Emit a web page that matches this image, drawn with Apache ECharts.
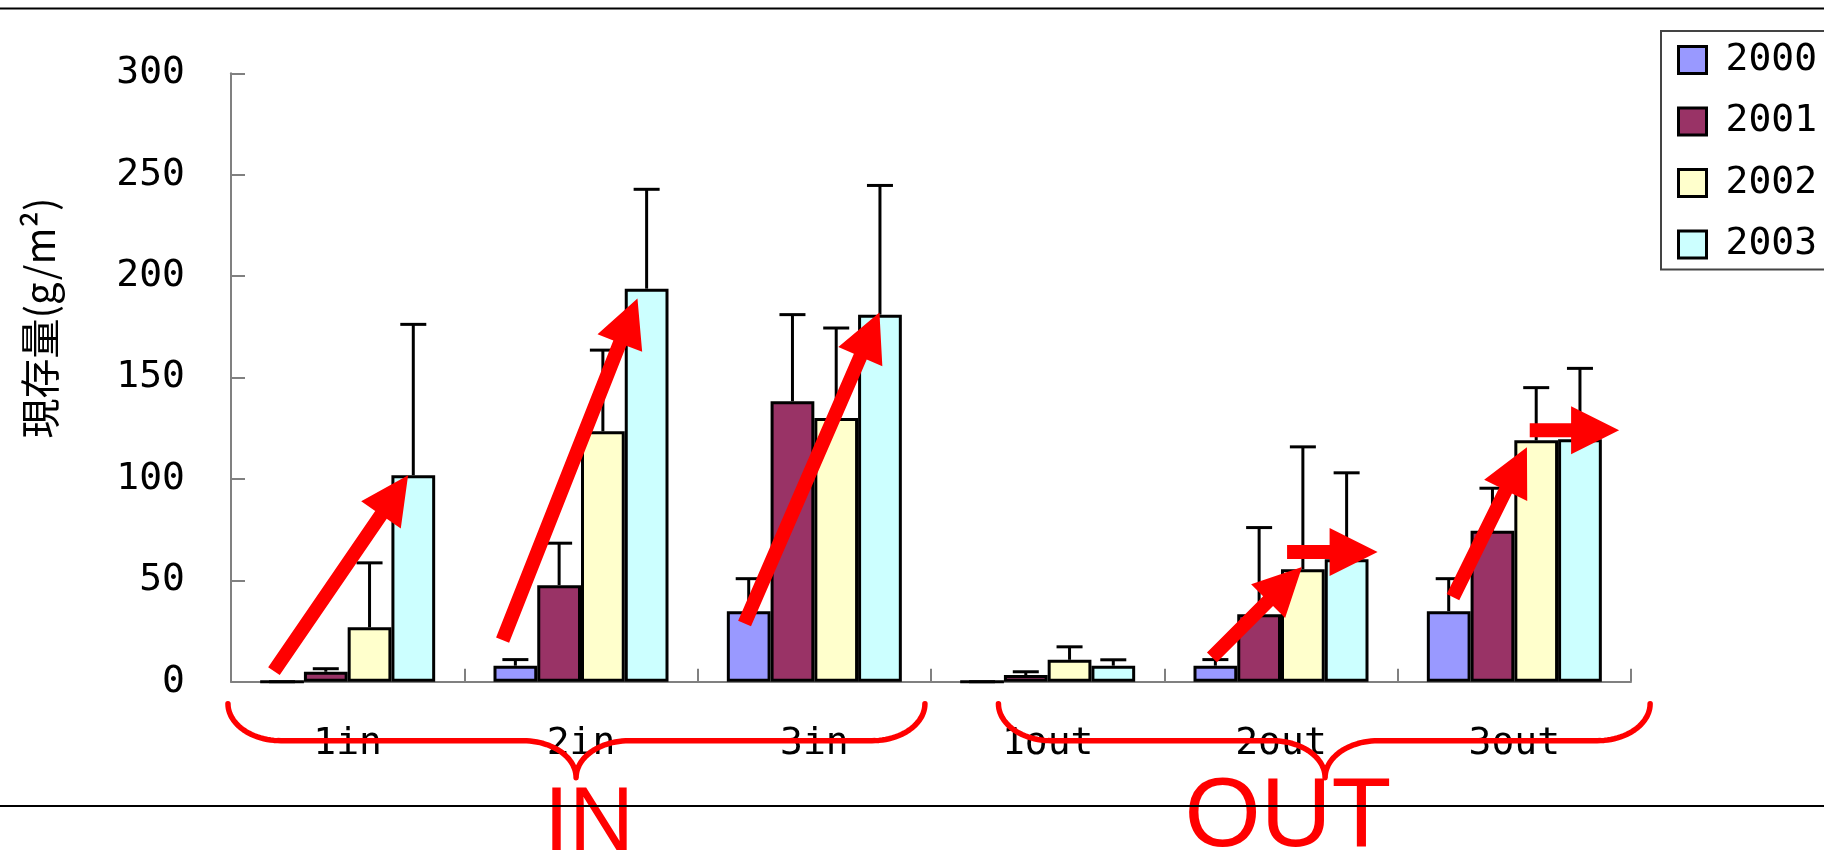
<!DOCTYPE html>
<html><head><meta charset="utf-8">
<script src="https://cdn.jsdelivr.net/npm/echarts@6/dist/echarts.min.js"></script>
<style>html,body{margin:0;padding:0;background:#fff}#c{width:1824px;height:859px}</style>
</head><body><div id="c"></div>
<script>
// ---- data ----
const categories = ['1in', '2in', '3in', '1out', '2out', '3out'];
const years = ['2000', '2001', '2002', '2003'];
const v2000 = [0, 7.9, 34.8, 0, 7.9, 34.8];
const v2001 = [4.9, 47.6, 138.3, 3.3, 33.3, 74.4];
const v2002 = [26.8, 123.5, 130, 10.8, 55.5, 119];
const v2003 = [101.8, 193.8, 181, 7.9, 60.4, 119.5];
const sd2000 = [0, 3, 16, 0, 3, 16];
const sd2001 = [1.5, 20.7, 42.7, 1.6, 42.7, 21];
const sd2002 = [31.8, 40, 44.4, 6.4, 60.3, 26];
const sd2003 = [74.4, 49, 63.7, 2.9, 42.6, 35];
const yTickLabels = ['0', '50', '100', '150', '200', '250', '300'];
const yTitle = '現存量(g/m²)';
// trend arrows: [from category position, from value, to category position, to value]
const arrows = [
  [-0.316, 5.2, 0.259, 101.8],
  [0.664, 20.5, 1.242, 189],
  [1.701, 28.7, 2.279, 182],
  [3.704, 12, 4.09, 56.5],
  [4.026, 64, 4.414, 64],
  [4.737, 41.7, 5.054, 115.6],
  [5.066, 124, 5.449, 124]
];
// group braces: [start position, end position, cusp position, label position]
const braces = [
  [-0.513, 2.474, 0.979, 1.034],
  [2.789, 5.582, 4.189, 4.030]
];
const braceLabels = ['IN', 'OUT'];

// ---- styling ----
const colors = ['#9999FF', '#993366', '#FFFFCC', '#CCFFFF'];
const values = [v2000, v2001, v2002, v2003];
const sds = [sd2000, sd2001, sd2002, sd2003];
const MONO = 'DejaVu Sans Mono';
const AXIS_GRAY = '#808080';

const errData = [];
for (let s = 0; s < years.length; s++) {
  for (let i = 0; i < categories.length; i++) {
    errData.push([i, s, values[s][i], values[s][i] + sds[s][i]]);
  }
}

function idxToPx(api, idx) {
  return api.coord([0, 0])[0] + idx * api.size([1, 0])[0];
}

const barSeries = years.map((y, s) => ({
  name: y,
  type: 'bar',
  data: values[s],
  barGap: '0%',
  barCategoryGap: '25%',
  itemStyle: { color: colors[s], borderColor: '#000', borderWidth: 3 },
  z: 2
}));

const errSeries = {
  type: 'custom',
  name: 'err',
  data: errData,
  encode: { x: 0, y: 2 },
  clip: false,
  z: 3,
  silent: true,
  renderItem(params, api) {
    const cat = api.value(0), s = api.value(1), v = api.value(2), top = api.value(3);
    const bw = api.size([1, 0])[0];
    const barW = bw * 0.75 / 4;
    const c = api.coord([cat, v]);
    const x = c[0] + (s - 1.5) * barW;
    const yTop = api.coord([cat, top])[1];
    const st = { stroke: '#000', lineWidth: 3 };
    return {
      type: 'group',
      children: [
        { type: 'line', shape: { x1: x, y1: c[1], x2: x, y2: yTop }, style: st },
        { type: 'line', shape: { x1: x - 13, y1: yTop, x2: x + 13, y2: yTop }, style: st }
      ]
    };
  }
};

const arrowSeries = {
  type: 'custom',
  name: 'arrows',
  data: arrows,
  encode: { x: 0, y: 1 },
  clip: false,
  z: 6,
  silent: true,
  renderItem(params, api) {
    const x0 = idxToPx(api, api.value(0)), y0 = api.coord([0, api.value(1)])[1];
    const x1 = idxToPx(api, api.value(2)), y1 = api.coord([0, api.value(3)])[1];
    const dx = x1 - x0, dy = y1 - y0, len = Math.hypot(dx, dy);
    const ux = dx / len, uy = dy / len, nx = -uy, ny = ux;
    const w = 7, L = 48, H = 24;
    const bx = x1 - ux * L, by = y1 - uy * L;
    const pts = [
      [x0 + nx * w, y0 + ny * w],
      [bx + nx * w, by + ny * w],
      [bx + nx * H, by + ny * H],
      [x1, y1],
      [bx - nx * H, by - ny * H],
      [bx - nx * w, by - ny * w],
      [x0 - nx * w, y0 - ny * w]
    ];
    return { type: 'polygon', shape: { points: pts }, style: { fill: '#FF0000' } };
  }
};

const braceSeries = {
  type: 'custom',
  name: 'braces',
  data: braces,
  encode: { x: 0 },
  clip: false,
  z: 6,
  silent: true,
  renderItem(params, api) {
    const base = api.coord([0, 0])[1];
    const xs = idxToPx(api, api.value(0)), xe = idxToPx(api, api.value(1));
    const xc = idxToPx(api, api.value(2)), xl = idxToPx(api, api.value(3));
    const yTop = base + 22, yH = base + 59, yC = base + 96;
    const rx = 53, ry = 37;
    const pts = [];
    const arc = (cx, cy, t0, t1) => {
      const n = 24;
      for (let k = 0; k <= n; k++) {
        const t = t0 + (t1 - t0) * k / n;
        pts.push([cx + rx * Math.cos(t), cy + ry * Math.sin(t)]);
      }
    };
    arc(xs + rx, yTop, Math.PI, Math.PI / 2);
    arc(xc - rx, yC, -Math.PI / 2, 0);
    arc(xc + rx, yC, Math.PI, 1.5 * Math.PI);
    arc(xe - rx, yTop, Math.PI / 2, 0);
    const label = braceLabels[params.dataIndex];
    const isIn = params.dataIndex === 0;
    return {
      type: 'group',
      children: [
        { type: 'polyline', shape: { points: pts },
          style: { stroke: '#FF0000', lineWidth: 5.5, fill: null, lineJoin: 'round', lineCap: 'round' } },
        { type: 'text',
          style: { text: label, x: xl, y: base + (isIn ? 143 : 137),
            fill: '#FF0000', font: (isIn ? 90 : 98) + 'px "Liberation Sans"',
            align: 'center', verticalAlign: 'middle' } }
      ]
    };
  }
};

const chart = echarts.init(document.getElementById('c'), null, { renderer: 'canvas' });
chart.setOption({
  backgroundColor: '#ffffff',
  animation: false,
  grid: { left: 231, right: 193, top: 73.3, bottom: 177.3, containLabel: false, outerBoundsMode: 'none' },
  legend: {
    data: years,
    orient: 'vertical',
    left: 1661,
    top: 31,
    icon: 'rect',
    itemWidth: 28,
    itemHeight: 27,
    itemGap: 23.5,
    padding: [10, 20, 6, 16],
    borderColor: '#444',
    borderWidth: 2,
    backgroundColor: '#fff',
    selectedMode: false,
    itemStyle: { borderColor: '#000', borderWidth: 3 },
    textStyle: { fontFamily: MONO, fontSize: 38, lineHeight: 38, color: '#000', padding: [0, 0, 0, 14] }
  },
  xAxis: {
    type: 'category',
    data: categories,
    boundaryGap: true,
    axisLine: { show: true, lineStyle: { color: AXIS_GRAY, width: 2 } },
    axisTick: { show: true, inside: true, length: 13, interval: 0, alignWithLabel: false,
      lineStyle: { color: AXIS_GRAY, width: 2 } },
    axisLabel: { fontFamily: MONO, fontSize: 38, lineHeight: 38, color: '#000', margin: 43, interval: 0 },
    splitLine: { show: false }
  },
  yAxis: {
    type: 'value',
    min: 0,
    max: 300,
    interval: 50,
    axisLine: { show: true, lineStyle: { color: AXIS_GRAY, width: 2 } },
    axisTick: { show: true, inside: true, length: 14, lineStyle: { color: AXIS_GRAY, width: 2 } },
    axisLabel: { fontFamily: MONO, fontSize: 38, color: '#000', margin: 46,
      formatter: (v) => yTickLabels[Math.round(v / 50)] },
    splitLine: { show: false }
  },
  graphic: [
    { type: 'text', x: 40, y: 318, rotation: Math.PI / 2, z: 50,
      style: { text: yTitle, font: '40px "Noto Sans CJK JP"', fill: '#000', align: 'center', verticalAlign: 'middle' } },
    { type: 'line', z: 100, shape: { x1: 0, y1: 8.5, x2: 1824, y2: 8.5 }, style: { stroke: '#000', lineWidth: 2 } },
    { type: 'line', z: 100, shape: { x1: 0, y1: 806, x2: 1824, y2: 806 }, style: { stroke: '#000', lineWidth: 2 } }
  ],
  series: [...barSeries, errSeries, arrowSeries, braceSeries]
});
</script>
</body></html>
